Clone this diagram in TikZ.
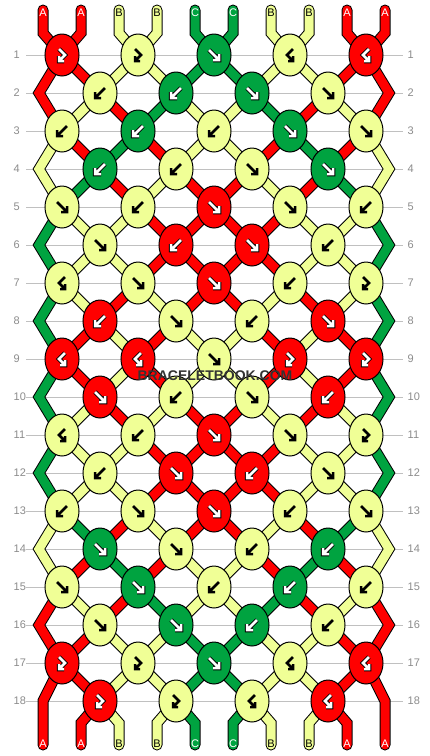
\documentclass[tikz,border=0pt]{standalone}
\usepackage{fontspec}
\setmainfont{Liberation Sans}
\usetikzlibrary{shapes.geometric}
\definecolor{colA}{RGB}{255,0,0}
\definecolor{colB}{RGB}{240,255,150}
\definecolor{colC}{RGB}{0,163,64}
\definecolor{rowgray}{RGB}{140,140,140}
\definecolor{linegray}{RGB}{192,192,192}
\definecolor{wmgray}{RGB}{51,51,51}
\pgfdeclarelayer{grid}
\pgfdeclarelayer{strands}
\pgfsetlayers{grid,strands,main}

\def\inkA{white}\def\inkB{black}\def\inkC{white}
\def\opA{1}\def\opB{0}\def\opC{1}

\newcommand\glyF[1]{\draw[#1] (-5,-5) -- (5,5) (-1,5) -- (5,5) -- (5,-1);}
\newcommand\glyB[1]{\draw[#1] (5,-5) -- (-5,5) (1,5) -- (-5,5) -- (-5,-1);}
\newcommand\glyFB[1]{\draw[#1] (-3,-6) -- (3,0) -- (-3,6) (-3,1) -- (-3,6) -- (2,6);}
\newcommand\glyBF[1]{\draw[#1] (3,-6) -- (-3,0) -- (3,6) (3,1) -- (3,6) -- (-2,6);}

\newcommand\glyph[3]{%
  \begin{scope}[shift={(#1.center)}]
    \csname gly#2\endcsname{line width=4.5, black, draw opacity=\csname op#3\endcsname, line join=miter}
    \csname gly#2\endcsname{line width=2.5, \csname ink#3\endcsname, line join=miter}
  \end{scope}}

\newcommand\knotrow[2]{%
  \pgfmathsetmacro\yy{55+38*(#1-1)}%
  \ifodd#1\relax\def\xo{62}\else\def\xo{100}\fi
  \foreach \kc/\kg [count=\i] in {#2}{%
    \pgfmathsetmacro\xx{\xo+76*(\i-1)}%
    \node[knot, fill=col\kc] (k-#1-\i) at (\xx,\yy) {};
    \glyph{k-#1-\i}{\kg}{\kc}
  }}

\newcommand\seg[3]{\draw[strand, double=col#1] (#2.center) -- (#3.center);}
\newcommand\links[9]{%
  \pgfmathtruncatemacro\rn{#1+1}%
  \ifodd#1\relax
    \seg{#2}{k-#1-1}{k-\rn-1}\seg{#3}{k-#1-2}{k-\rn-1}%
    \seg{#4}{k-#1-2}{k-\rn-2}\seg{#5}{k-#1-3}{k-\rn-2}%
    \seg{#6}{k-#1-3}{k-\rn-3}\seg{#7}{k-#1-4}{k-\rn-3}%
    \seg{#8}{k-#1-4}{k-\rn-4}\seg{#9}{k-#1-5}{k-\rn-4}%
  \else
    \seg{#2}{k-#1-1}{k-\rn-1}\seg{#3}{k-#1-1}{k-\rn-2}%
    \seg{#4}{k-#1-2}{k-\rn-2}\seg{#5}{k-#1-2}{k-\rn-3}%
    \seg{#6}{k-#1-3}{k-\rn-3}\seg{#7}{k-#1-3}{k-\rn-4}%
    \seg{#8}{k-#1-4}{k-\rn-4}\seg{#9}{k-#1-4}{k-\rn-5}%
  \fi}

\tikzset{
  knot/.style={ellipse, draw=black, line width=1, minimum width=34, minimum height=42, inner sep=0},
  strand/.style={draw=black, line width=1, double distance=9, line join=miter},
  lab/.style={font=\fontsize{11}{13}\selectfont, inner sep=0},
  rownum/.style={font=\fontsize{11}{13}\selectfont, text=rowgray, inner sep=0, anchor=west},
  wm/.style={font=\bfseries\fontsize{14}{16}\selectfont, inner sep=0}
}

\begin{document}
\begin{tikzpicture}[x=1pt,y=-1pt]
\useasboundingbox (0,0) rectangle (430,756);
\begin{pgfonlayer}{grid}
  \fill[white] (0,0) rectangle (430,756);
  \foreach \r in {1,...,18}{
    \pgfmathsetmacro\yy{55+38*(\r-1)}
    \draw[linegray, line width=1] (26,\yy) -- (403,\yy);
    \node[rownum] (nl-\r) at (13.5,\yy) {\r};
    \node[rownum] (nr-\r) at (407.5,\yy) {\r};
  }
\end{pgfonlayer}

\knotrow{1}{A/FB,B/FB,C/F,B/BF,A/BF}
\knotrow{2}{B/B,C/B,C/F,B/F}
\knotrow{3}{B/B,C/B,B/B,C/F,B/F}
\knotrow{4}{C/B,B/B,B/F,C/F}
\knotrow{5}{B/F,B/B,A/F,B/F,B/B}
\knotrow{6}{B/F,A/B,A/F,B/B}
\knotrow{7}{B/BF,B/F,A/F,B/B,B/FB}
\knotrow{8}{A/B,B/F,B/B,A/F}
\knotrow{9}{A/BF,A/BF,B/F,A/FB,A/FB}
\knotrow{10}{A/F,B/B,B/F,A/B}
\knotrow{11}{B/BF,B/B,A/F,B/F,B/FB}
\knotrow{12}{B/B,A/F,A/B,B/F}
\knotrow{13}{B/B,B/F,A/F,B/B,B/F}
\knotrow{14}{C/F,B/F,B/B,C/B}
\knotrow{15}{B/F,C/F,B/B,C/B,B/B}
\knotrow{16}{B/F,C/F,C/B,B/B}
\knotrow{17}{A/FB,B/FB,C/F,B/BF,A/BF}
\knotrow{18}{A/FB,B/FB,B/BF,A/BF}

\begin{pgfonlayer}{strands}
\links{1}{A}{B}{B}{C}{C}{B}{B}{A}
\links{2}{B}{A}{C}{B}{B}{C}{A}{B}
\links{3}{A}{C}{A}{B}{B}{A}{C}{A}
\links{4}{C}{A}{B}{A}{A}{B}{A}{C}
\links{5}{B}{B}{A}{A}{A}{A}{B}{B}
\links{6}{B}{B}{A}{A}{A}{A}{B}{B}
\links{7}{B}{A}{B}{A}{A}{B}{A}{B}
\links{8}{A}{B}{A}{B}{B}{A}{B}{A}
\links{9}{A}{B}{A}{B}{B}{A}{B}{A}
\links{10}{B}{A}{B}{A}{A}{B}{A}{B}
\links{11}{B}{B}{A}{A}{A}{A}{B}{B}
\links{12}{B}{B}{A}{A}{A}{A}{B}{B}
\links{13}{C}{A}{B}{A}{A}{B}{A}{C}
\links{14}{A}{C}{A}{B}{B}{A}{C}{A}
\links{15}{B}{A}{C}{B}{B}{C}{A}{B}
\links{16}{A}{B}{B}{C}{C}{B}{B}{A}
\links{17}{A}{B}{B}{C}{C}{B}{B}{A}
% edge zigzags
\foreach \e/\col in {2/A,4/B,6/C,8/C,10/C,12/C,14/B,16/A}{
  \pgfmathtruncatemacro\ea{\e-1}
  \pgfmathtruncatemacro\eb{\e+1}
  \pgfmathsetmacro\yy{55+38*(\e-1)}
  \coordinate (zl-\e) at (39,\yy);
  \coordinate (zr-\e) at (389,\yy);
  \draw[strand, double=col\col] (k-\ea-1.center) -- (zl-\e) -- (k-\eb-1.center);
  \draw[strand, double=col\col] (k-\ea-5.center) -- (zr-\e) -- (k-\eb-5.center);
}
% top strands
\foreach \p/\col/\i in {0/A/1,1/A/1,2/B/2,3/B/2,4/C/3,5/C/3,6/B/4,7/B/4,8/A/5,9/A/5}{
  \pgfmathsetmacro\xx{43+38*\p}
  \coordinate (t-\p) at (\xx,10);
  \coordinate (tb-\p) at (\xx,33);
  \draw[strand, line cap=round, double=col\col] (t-\p) -- (tb-\p) -- (k-1-\i.center);
}
% bottom strands
\foreach \p/\col/\r/\i/\by in {0/A/17/1/701,1/A/18/1/723,2/B/18/1/723,3/B/18/2/723,4/C/18/2/723,5/C/18/3/723,6/B/18/3/723,7/B/18/4/723,8/A/18/4/723,9/A/17/5/701}{
  \pgfmathsetmacro\xx{43+38*\p}
  \coordinate (bb-\p) at (\xx,\by);
  \coordinate (b-\p) at (\xx,745);
  \draw[strand, line cap=round, double=col\col] (k-\r-\i.center) -- (bb-\p) -- (b-\p);
}
\end{pgfonlayer}

% strand letters
\foreach \p/\col in {0/A,1/A,2/B,3/B,4/C,5/C,6/B,7/B,8/A,9/A}{
  \pgfmathsetmacro\xx{43+38*\p}
  \node[lab, text=\csname ink\col\endcsname] (lt-\p) at (\xx,12.5) {\col};
  \node[lab, text=\csname ink\col\endcsname] (lb-\p) at (\xx,743.5) {\col};
}

% watermark
\node[wm, text=wmgray] (wm) at (215,376) {BRACELETBOOK.COM};
\end{tikzpicture}
\end{document}
